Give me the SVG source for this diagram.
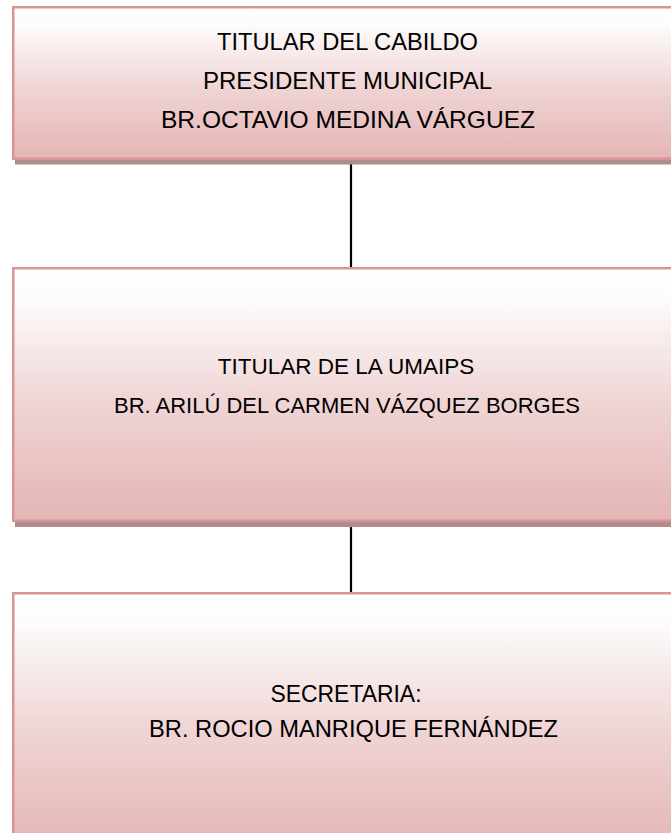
<svg xmlns="http://www.w3.org/2000/svg" width="671" height="833" viewBox="0 0 671 833">
<defs>
<linearGradient id="g" x1="0" y1="0" x2="0" y2="1">
<stop offset="0" stop-color="#ffffff"/>
<stop offset="0.12" stop-color="#fdfbfb"/>
<stop offset="0.55" stop-color="#efd3d3"/>
<stop offset="1" stop-color="#e4b5b4"/>
</linearGradient>
<style>
.box{fill:url(#g);stroke:#d99594;stroke-width:2.5}
.sh{fill:#b08d8c}
.t{font-family:"Liberation Sans",Arial,sans-serif;font-size:24px;fill:#000;text-anchor:middle}
.s{font-size:22.5px}
.c{stroke:#000;stroke-width:2.2;fill:none}
</style>
</defs>
<rect width="671" height="833" fill="#fff"/>
<g id="connectors">
<line class="c" x1="351" y1="160" x2="351" y2="267"/>
<line class="c" x1="351" y1="521" x2="351" y2="592"/>
</g>
<g id="node1">
<rect class="sh" x="15" y="10" width="700" height="154.5"/>
<rect class="box" x="13.25" y="7.25" width="700" height="151.5"/>
<text class="t" x="347.5" y="50" textLength="261" lengthAdjust="spacingAndGlyphs">TITULAR DEL CABILDO</text>
<text class="t" x="347.5" y="89" textLength="289" lengthAdjust="spacingAndGlyphs">PRESIDENTE MUNICIPAL</text>
<text class="t" x="348" y="128" textLength="374" lengthAdjust="spacingAndGlyphs">BR.OCTAVIO MEDINA VÁRGUEZ</text>
</g>
<g id="node2">
<rect class="sh" x="15" y="271" width="700" height="256"/>
<rect class="box" x="13.25" y="268.25" width="700" height="252.5"/>
<text class="t s" x="346" y="374">TITULAR DE LA UMAIPS</text>
<text class="t s" x="347" y="413" textLength="466" lengthAdjust="spacingAndGlyphs">BR. ARILÚ DEL CARMEN VÁZQUEZ BORGES</text>
</g>
<g id="node3">
<rect class="sh" x="15" y="596" width="700" height="260"/>
<rect class="box" x="13.25" y="593.25" width="700" height="258"/>
<text class="t" x="346" y="702" textLength="151" lengthAdjust="spacingAndGlyphs">SECRETARIA:</text>
<text class="t" x="353.5" y="737" textLength="409" lengthAdjust="spacingAndGlyphs">BR. ROCIO MANRIQUE FERNÁNDEZ</text>
</g>
</svg>
